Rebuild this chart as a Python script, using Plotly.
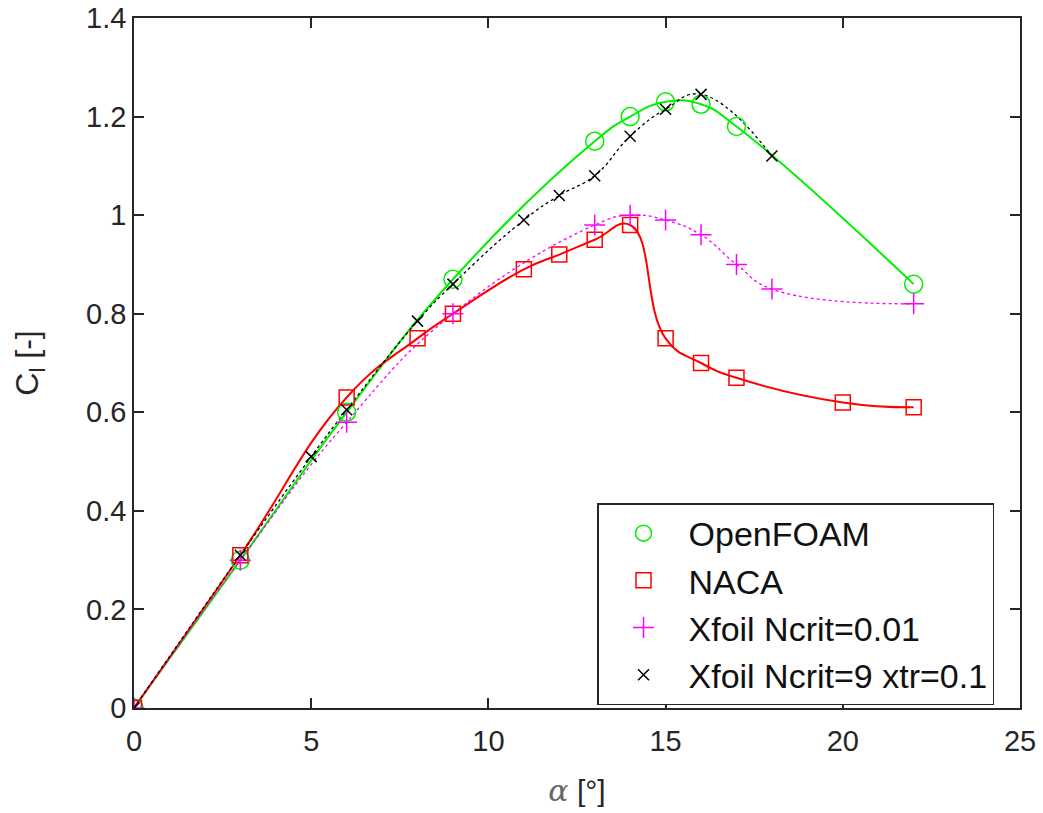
import plotly.graph_objects as go

# OpenFOAM
of_alpha = [0, 3, 6, 9, 13, 14, 15, 16, 17, 22]
of_cl = [0.0, 0.30, 0.60, 0.87, 1.15, 1.20, 1.23, 1.225, 1.18, 0.86]
# NACA
naca_alpha = [0, 3, 6, 8, 9, 11, 12, 13, 14, 15, 16, 17, 20, 22]
naca_cl = [0.0, 0.31, 0.63, 0.75, 0.80, 0.89, 0.92, 0.95, 0.98, 0.75, 0.70, 0.67, 0.62, 0.61]
# Xfoil Ncrit=0.01
xf1_alpha = [0, 3, 6, 9, 13, 14, 15, 16, 17, 18, 22]
xf1_cl = [0.0, 0.30, 0.58, 0.80, 0.98, 1.00, 0.99, 0.96, 0.90, 0.85, 0.82]
# Xfoil Ncrit=9 xtr=0.1
xf2_alpha = [0, 3, 5, 6, 8, 9, 11, 12, 13, 14, 15, 16, 18]
xf2_cl = [0.0, 0.31, 0.51, 0.605, 0.785, 0.86, 0.99, 1.04, 1.08, 1.16, 1.215, 1.245, 1.12]

x_ticks = [0, 5, 10, 15, 20, 25]
y_ticks = [0, 0.2, 0.4, 0.6, 0.8, 1.0, 1.2, 1.4]
y_tick_text = ["0", "0.2", "0.4", "0.6", "0.8", "1", "1.2", "1.4"]

series = [
    ("OpenFOAM", of_alpha, of_cl, "#00ee00", "solid", 2, "circle-open", 18),
    ("NACA", naca_alpha, naca_cl, "#ff0000", "solid", 2, "square-open", 15),
    ("Xfoil Ncrit=0.01", xf1_alpha, xf1_cl, "#ff00ff", "dot", 1.3, "cross-thin-open", 15),
    ("Xfoil Ncrit=9 xtr=0.1", xf2_alpha, xf2_cl, "#000000", "dot", 1.3, "x-thin-open", 11),
]

fig = go.Figure()
for name, xs, ys, col, dash, lw, sym, sz in series:
    fig.add_trace(go.Scatter(
        x=xs, y=ys, mode="lines", showlegend=False, hoverinfo="skip",
        line=dict(color=col, width=lw, dash=dash, shape="spline", smoothing=1.3),
    ))
for i, (name, xs, ys, col, dash, lw, sym, sz) in enumerate(series):
    fig.add_trace(go.Scatter(
        x=xs, y=ys, mode="markers", name=name, legendgroup=f"g{i}",
        marker=dict(symbol=sym, size=sz, color=col, line=dict(color=col, width=1.5)),
    ))

axis_col = "#262626"
font_fam = "Liberation Sans"
fig.update_layout(
    width=1043, height=813,
    margin=dict(l=134, r=23, t=18, b=105, autoexpand=False),
    paper_bgcolor="white", plot_bgcolor="white",
    font=dict(family=font_fam, size=29, color=axis_col),
    legend=dict(
        x=0.5226, y=0.297, xanchor="left", yanchor="top",
        bordercolor="#262626", borderwidth=1.5, bgcolor="white",
        font=dict(size=34, color="#111111"),
        tracegroupgap=0, itemwidth=80,
    ),
)
fig.update_xaxes(
    range=[0, 25], tickvals=x_ticks, ticks="inside", ticklen=10, tickwidth=1.5,
    tickcolor=axis_col, showline=True, linecolor=axis_col, linewidth=1.5,
    mirror="ticks", showgrid=False, zeroline=False, automargin=False,
    ticklabelstandoff=6,
    title=dict(text="<span style='font-family:DejaVu Serif;color:#666666'><i>α</i></span> [°]",
               font=dict(size=30, color=axis_col), standoff=24),
)
fig.update_yaxes(
    range=[0, 1.4], tickvals=y_ticks, ticktext=y_tick_text, ticks="inside", ticklen=10,
    tickwidth=1.5, tickcolor=axis_col, showline=True, linecolor=axis_col, linewidth=1.5,
    mirror="ticks", showgrid=False, zeroline=False, automargin=False,
    title=dict(text="C<sub>l</sub> [-]", font=dict(size=32, color=axis_col), standoff=38),
)

fig.write_html("out.html")
